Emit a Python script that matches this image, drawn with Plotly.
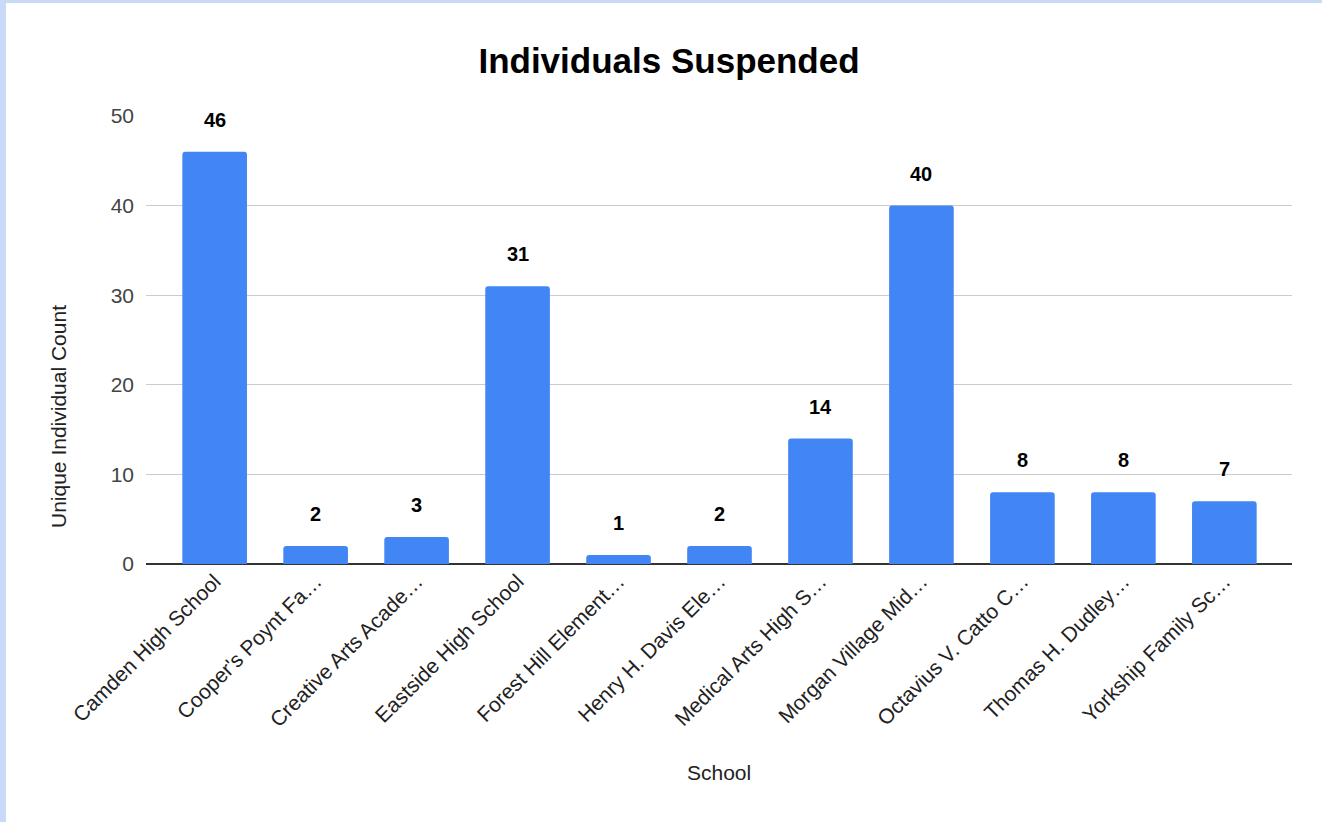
import plotly.graph_objects as go

schools = [
    "Camden High School", "Cooper's Poynt Fa…", "Creative Arts Acade…",
    "Eastside High School", "Forest Hill Element…", "Henry H. Davis Ele…",
    "Medical Arts High S…", "Morgan Village Mid…", "Octavius V. Catto C…",
    "Thomas H. Dudley…", "Yorkship Family Sc…",
]
counts = [46, 2, 3, 31, 1, 2, 14, 40, 8, 8, 7]
y_ticks = [0, 10, 20, 30, 40, 50]

FONT = "Liberation Sans, Arial, sans-serif"
W, H = 1322, 822
ML, MR, MT, MB = 146, 30, 116, 258
PW, PH = W - ML - MR, H - MT - MB

fig = go.Figure()
fig.add_trace(go.Bar(
    x=list(range(len(schools))), y=counts,
    marker=dict(color="#4285f4", line=dict(width=0), cornerradius=3),
    width=0.64, hoverinfo="x+y",
))

for i, v in enumerate(counts):
    fig.add_annotation(x=i, y=v, text=f"<b>{v}</b>", showarrow=False,
                       yshift=32, font=dict(family=FONT, size=20, color="#000"))

def px_x(p):
    return (p - ML) / PW

def px_y(p):
    return 1 - (p - MT) / PH

shapes = [
    dict(type="rect", xref="paper", yref="paper", layer="above",
         x0=px_x(0), x1=px_x(6), y0=px_y(H), y1=px_y(0),
         fillcolor="#c9daf8", line=dict(width=0)),
    dict(type="rect", xref="paper", yref="paper", layer="above",
         x0=px_x(0), x1=px_x(W), y0=px_y(3), y1=px_y(0),
         fillcolor="#c9daf8", line=dict(width=0)),
]

fig.add_annotation(xref="paper", yref="paper", x=px_x(58), y=px_y(417),
                   xanchor="center", yanchor="middle",
                   text="Unique Individual Count", textangle=-90, showarrow=False,
                   font=dict(family=FONT, size=21, color="#222"))
fig.add_annotation(xref="paper", yref="paper", x=px_x(719), y=px_y(772),
                   xanchor="center", yanchor="middle",
                   text="School", showarrow=False,
                   font=dict(family=FONT, size=21, color="#222"))

fig.update_layout(
    width=W, height=H,
    margin=dict(l=ML, r=MR, t=MT, b=MB, autoexpand=False),
    paper_bgcolor="white", plot_bgcolor="white",
    shapes=shapes,
    showlegend=False,
    title=dict(text="<b>Individuals Suspended</b>", x=px_x(669), xref="paper",
               xanchor="center", y=1 - 61 / H, yanchor="middle",
               font=dict(family=FONT, size=35, color="#000")),
    font=dict(family=FONT, size=21, color="#222"),
    xaxis=dict(
        range=[-0.68, 10.67], tickmode="array",
        tickvals=list(range(len(schools))), ticktext=schools,
        tickangle=-45, showgrid=False, zeroline=False, showline=False,
        ticks="", tickfont=dict(family=FONT, size=21, color="#222"),
    ),
    yaxis=dict(
        range=[0, 50], tickmode="array", tickvals=y_ticks,
        showgrid=True, gridcolor="#cccccc", gridwidth=1,
        zeroline=True, zerolinecolor="#333333", zerolinewidth=1.5,
        showline=False, ticks="", ticklabelstandoff=11,
        tickfont=dict(family=FONT, size=21, color="#444"),
    ),
    bargap=0.36,
)

fig.write_html("out.html", config={"displayModeBar": False},
               post_script="document.body.style.margin='0';document.body.style.overflow='hidden';")
